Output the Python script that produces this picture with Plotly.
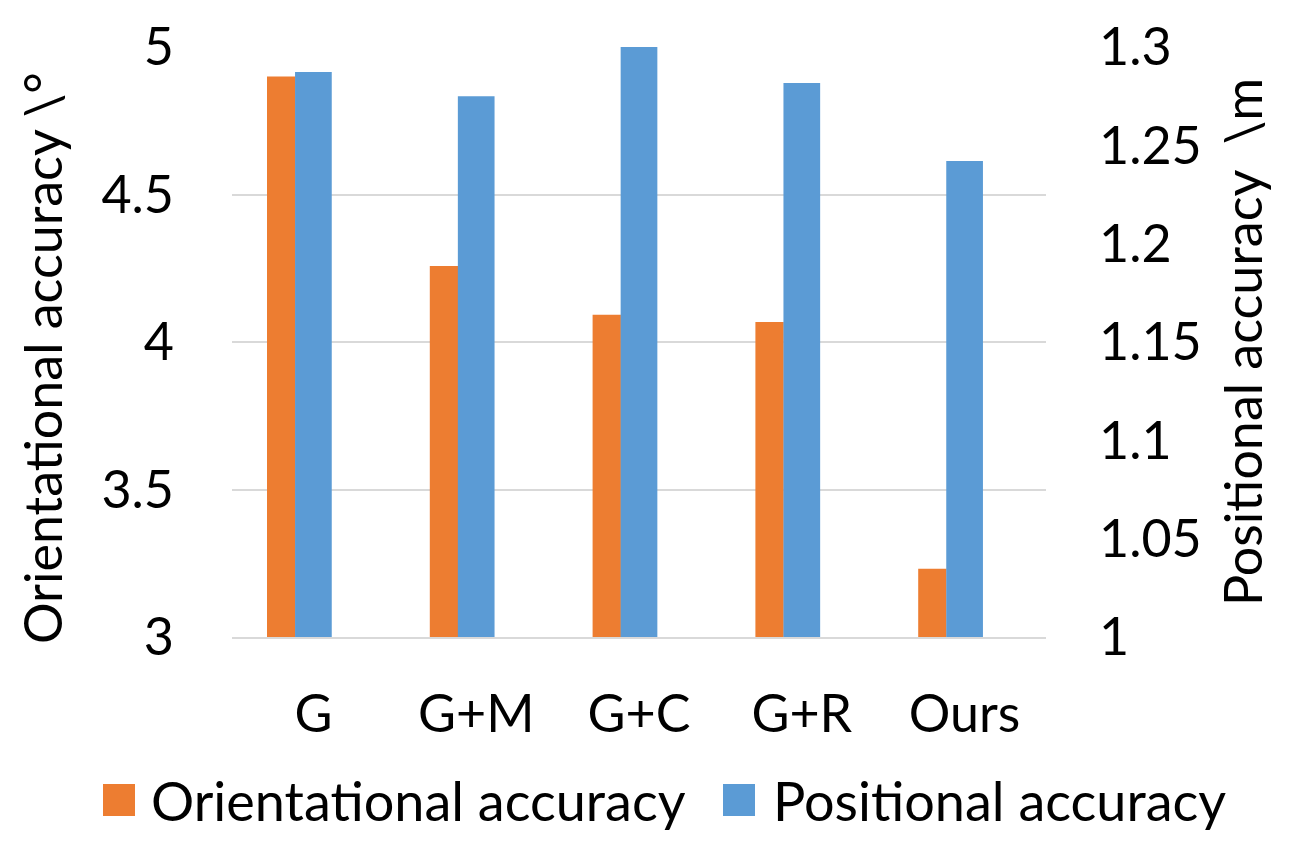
import plotly.graph_objects as go

categories = ["G", "G+M", "G+C", "G+R", "Ours"]
orientational = [4.90, 4.258, 4.092, 4.068, 3.231]
positional = [1.2873, 1.275, 1.300, 1.2817, 1.242]
left_ticks = [3, 3.5, 4, 4.5, 5]
right_ticks = [1, 1.05, 1.1, 1.15, 1.2, 1.25, 1.3]
series_names = ["Orientational accuracy", "Positional accuracy"]
left_title = "Orientational accuracy \\°"
right_title = "Positional accuracy \u00a0\\m"

ORANGE = "#ED7D31"
BLUE = "#5B9BD5"
FONT = "Lato"
FS_TICK = 52
FS_TITLE = 52
FS_LEG = 54

# figure is placed 8px into the page by the default body margin
W, H = 1299, 846
L, R, T, B = 224, 261, 39, 217
PW, PH = W - L - R, H - T - B


def px(fx):
    return (fx - L) / PW


def py(fy):
    return (H - B - fy) / PH


fig = go.Figure()
fig.add_trace(go.Bar(
    x=categories, y=orientational, name=series_names[0],
    marker=dict(color=ORANGE, line=dict(width=0)),
    offset=-0.285, width=0.174, yaxis="y", base=0,
    showlegend=False,
))
fig.add_trace(go.Bar(
    x=categories, y=positional, name=series_names[1],
    marker=dict(color=BLUE, line=dict(width=0)),
    offset=-0.1127, width=0.2254, yaxis="y2", base=0,
    showlegend=False,
))

fig.update_layout(
    width=W, height=H,
    margin=dict(l=L, r=R, t=T, b=B, pad=0, autoexpand=False),
    paper_bgcolor="white", plot_bgcolor="white",
    barmode="overlay",
    font=dict(family=FONT, size=FS_TICK, color="black"),
    showlegend=False,
    xaxis=dict(
        type="category", showgrid=False, zeroline=False, automargin=False,
        showline=True, linecolor="#d9d9d9", linewidth=2,
        ticks="", ticklabelstandoff=31,
        tickfont=dict(family=FONT, size=FS_TICK),
    ),
    yaxis=dict(
        range=[3, 5], tickvals=left_ticks, ticktext=[f"{v:g}" for v in left_ticks],
        showgrid=True, gridcolor="#d9d9d9", gridwidth=2, automargin=False,
        zeroline=False, showline=False, ticks="",
        ticklabelstandoff=57,
        tickfont=dict(family=FONT, size=FS_TICK),
    ),
    yaxis2=dict(
        range=[1, 1.3], tickvals=right_ticks, ticktext=[f"{v:g}" for v in right_ticks],
        overlaying="y", side="right", showgrid=False, zeroline=False, automargin=False,
        showline=False, ticks="", ticklabelstandoff=52,
        tickfont=dict(family=FONT, size=FS_TICK),
        title=dict(text=right_title, font=dict(family=FONT, size=FS_TITLE), standoff=24),
    ),
)

# left axis title (sits slightly below the plot centre, as in the reference)
fig.add_annotation(xref="paper", yref="paper", x=px(34), y=py(350),
                   xanchor="center", yanchor="middle", showarrow=False,
                   textangle=-90, text=left_title,
                   font=dict(family=FONT, size=FS_TITLE, color="black"))

# legend drawn as squares + text (Excel-style large swatches)
legend_layout = [(series_names[0], ORANGE, 95, 141), (series_names[1], BLUE, 715, 763)]
for label, color, sx, tx in legend_layout:
    fig.add_shape(type="rect", xref="paper", yref="paper",
                  x0=px(sx), x1=px(sx + 32),
                  y0=py(808), y1=py(776),
                  fillcolor=color, line=dict(width=0))
    fig.add_annotation(xref="paper", yref="paper",
                       x=px(tx), y=py(792),
                       xanchor="left", yanchor="middle", showarrow=False,
                       text=label, font=dict(family=FONT, size=FS_LEG, color="black"))

fig.write_html("out.html")
